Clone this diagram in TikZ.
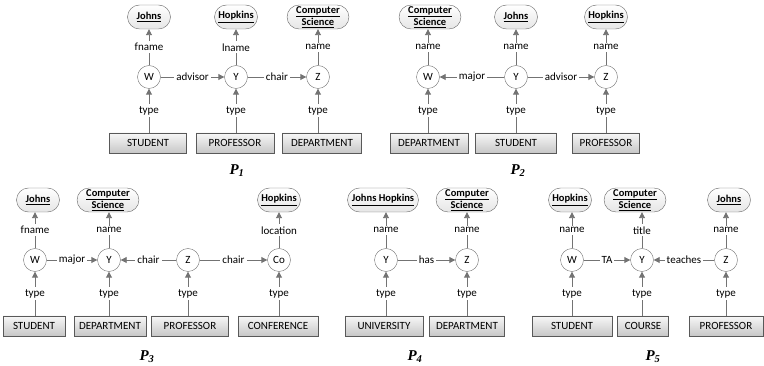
\documentclass[tikz,border=0pt]{standalone}
\usepackage{fontspec}
\setmainfont{Carlito}
\newfontfamily\tagfont{Liberation Serif}
\usetikzlibrary{positioning,arrows.meta,shapes.misc}

\begin{document}
\begin{tikzpicture}[
  x=1pt, y=-1pt,
  lit/.style={rounded rectangle, draw=black!60, top color=white, bottom color=black!10, font=\bfseries\fontsize{10.5}{11}\selectfont, minimum height=24pt, minimum width=49pt, inner xsep=3pt, inner ysep=1pt, align=center},
  cls/.style={draw=black!65, top color=black!3, bottom color=black!22, minimum height=20pt, inner sep=2pt, font=\fontsize{11}{12}\selectfont},
  var/.style={circle, draw=black!55, fill=white, minimum size=23pt, inner sep=0pt, font=\fontsize{11}{12}\selectfont},
  rel/.style={draw=black!55, line width=0.9pt, -{Triangle[length=6pt,width=6pt]}},
  lbl/.style={fill=white, inner sep=2pt, font=\fontsize{11}{12}\selectfont},
  ptag/.style={font=\tagfont\bfseries\itshape\fontsize{15}{16}\selectfont},
]
\useasboundingbox (0,0) rectangle (764,366);

% P1
\node[lit] (j1) at (149,17) {\underline{Johns}};
\node[lit] (h1) at (236,17) {\underline{Hopkins}};
\node[lit] (c1) at (318,17) {\underline{Computer}\\\underline{Science}};
\node[var] (w1) at (149,77) {W};
\node[var] (y1) at (236,77) {Y};
\node[var] (z1) at (318,77) {Z};
\node[cls, minimum width=77pt] (s1) at (148,143) {STUDENT};
\node[cls, minimum width=78pt] (p1) at (235,143) {PROFESSOR};
\node[cls, minimum width=79pt] (d1) at (322,143) {DEPARTMENT};
\node[ptag] (t1) at (237,171) {P\textsubscript{1}};
\draw[rel] (w1) -- node[lbl]{fname} (w1 |- j1.south);
\draw[rel] (y1) -- node[lbl]{lname} (y1 |- h1.south);
\draw[rel] (z1) -- node[lbl]{name} (z1 |- c1.south);
\draw[rel] (w1) -- node[lbl]{advisor} (y1);
\draw[rel] (y1) -- node[lbl]{chair} (z1);
\draw[rel] (w1 |- s1.north) -- node[lbl]{type} (w1);
\draw[rel] (y1 |- p1.north) -- node[lbl]{type} (y1);
\draw[rel] (z1 |- d1.north) -- node[lbl]{type} (z1);

% P2
\node[lit] (c2) at (430,17) {\underline{Computer}\\\underline{Science}};
\node[lit] (j2) at (516,17) {\underline{Johns}};
\node[lit] (h2) at (606,17) {\underline{Hopkins}};
\node[var] (w2) at (428,77) {W};
\node[var] (y2) at (516,77) {Y};
\node[var] (z2) at (606,77) {Z};
\node[cls, minimum width=78pt] (d2) at (429,143) {DEPARTMENT};
\node[cls, minimum width=81pt] (s2) at (516,143) {STUDENT};
\node[cls, minimum width=67pt] (p2) at (606,143) {PROFESSOR};
\node[ptag] (t2) at (518,171) {P\textsubscript{2}};
\draw[rel] (w2) -- node[lbl]{name} (w2 |- c2.south);
\draw[rel] (y2) -- node[lbl]{name} (y2 |- j2.south);
\draw[rel] (z2) -- node[lbl]{name} (z2 |- h2.south);
\draw[rel] (y2) -- node[lbl]{major} (w2);
\draw[rel] (y2) -- node[lbl]{advisor} (z2);
\draw[rel] (w2 |- d2.north) -- node[lbl]{type} (w2);
\draw[rel] (y2 |- s2.north) -- node[lbl]{type} (y2);
\draw[rel] (z2 |- p2.north) -- node[lbl]{type} (z2);

% P3
\node[lit] (j3) at (38,200) {\underline{Johns}};
\node[lit] (c3) at (108,200) {\underline{Computer}\\\underline{Science}};
\node[lit] (h3) at (279,200) {\underline{Hopkins}};
\node[var] (w3) at (35,260) {W};
\node[var] (y3) at (109,260) {Y};
\node[var] (z3) at (188,260) {Z};
\node[var] (co3) at (279,260) {Co};
\node[cls, minimum width=62pt] (s3) at (34,326) {STUDENT};
\node[cls, minimum width=72pt] (d3) at (110,326) {DEPARTMENT};
\node[cls, minimum width=77pt] (p3) at (190,326) {PROFESSOR};
\node[cls, minimum width=80pt] (cf3) at (278,326) {CONFERENCE};
\node[ptag] (t3) at (147,357) {P\textsubscript{3}};
\draw[rel] (w3) -- node[lbl]{fname} (w3 |- j3.south);
\draw[rel] (y3) -- node[lbl]{name} (y3 |- c3.south);
\draw[rel] (co3) -- node[lbl]{location} (co3 |- h3.south);
\draw[rel] (w3) -- node[lbl]{major} (y3);
\draw[rel] (z3) -- node[lbl]{chair} (y3);
\draw[rel] (z3) -- node[lbl]{chair} (co3);
\draw[rel] (w3 |- s3.north) -- node[lbl]{type} (w3);
\draw[rel] (y3 |- d3.north) -- node[lbl]{type} (y3);
\draw[rel] (z3 |- p3.north) -- node[lbl]{type} (z3);
\draw[rel] (co3 |- cf3.north) -- node[lbl]{type} (co3);

% P4
\node[lit] (jh4) at (383,200) {\underline{Johns Hopkins}};
\node[lit] (c4) at (467,200) {\underline{Computer}\\\underline{Science}};
\node[var] (y4) at (386,260) {Y};
\node[var] (z4) at (467,260) {Z};
\node[cls, minimum width=78pt] (u4) at (384,326) {UNIVERSITY};
\node[cls, minimum width=75pt] (d4) at (467,326) {DEPARTMENT};
\node[ptag] (t4) at (415,357) {P\textsubscript{4}};
\draw[rel] (y4) -- node[lbl]{name} (y4 |- jh4.south);
\draw[rel] (z4) -- node[lbl]{name} (z4 |- c4.south);
\draw[rel] (y4) -- node[lbl]{has} (z4);
\draw[rel] (y4 |- u4.north) -- node[lbl]{type} (y4);
\draw[rel] (z4 |- d4.north) -- node[lbl]{type} (z4);

% P5
\node[lit] (h5) at (570,200) {\underline{Hopkins}};
\node[lit] (c5) at (635,200) {\underline{Computer}\\\underline{Science}};
\node[lit] (j5) at (729,200) {\underline{Johns}};
\node[var] (w5) at (572,260) {W};
\node[var] (y5) at (642,260) {Y};
\node[var] (z5) at (726,260) {Z};
\node[cls, minimum width=80pt] (s5) at (572,326) {STUDENT};
\node[cls, minimum width=51pt] (cr5) at (643,326) {COURSE};
\node[cls, minimum width=74pt] (p5) at (726,326) {PROFESSOR};
\node[ptag] (t5) at (653,357) {P\textsubscript{5}};
\draw[rel] (w5) -- node[lbl]{name} (w5 |- h5.south);
\draw[rel] (y5) -- node[lbl]{title} (y5 |- c5.south);
\draw[rel] (z5) -- node[lbl]{name} (z5 |- j5.south);
\draw[rel] (w5) -- node[lbl]{TA} (y5);
\draw[rel] (z5) -- node[lbl]{teaches} (y5);
\draw[rel] (w5 |- s5.north) -- node[lbl]{type} (w5);
\draw[rel] (y5 |- cr5.north) -- node[lbl]{type} (y5);
\draw[rel] (z5 |- p5.north) -- node[lbl]{type} (z5);
\end{tikzpicture}
\end{document}
